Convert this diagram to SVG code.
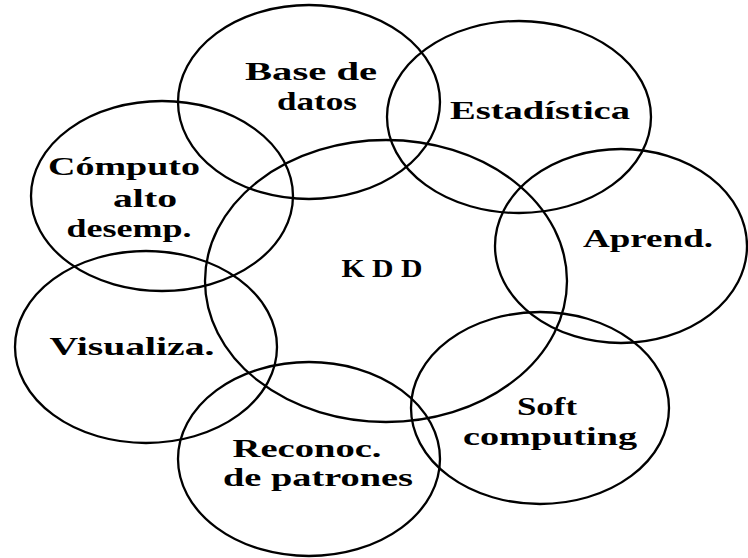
<svg xmlns="http://www.w3.org/2000/svg" width="748" height="558" viewBox="0 0 748 558">
  <style>
    .ring { fill: none; stroke: #000; stroke-width: 2.3; }
    .lbl { font-family: "Liberation Serif", "Times New Roman", serif; font-weight: bold; font-size: 26px; fill: #000; text-anchor: middle; }
  </style>
  <rect width="748" height="558" fill="#fff"/>

  <g id="base-datos">
    <ellipse class="ring" cx="309" cy="102" rx="131" ry="97"/>
    <text class="lbl" x="311" y="80" textLength="132" lengthAdjust="spacingAndGlyphs">Base de</text>
    <text class="lbl" x="317" y="110" textLength="80" lengthAdjust="spacingAndGlyphs">datos</text>
  </g>

  <g id="estadistica">
    <ellipse class="ring" cx="519" cy="117" rx="132" ry="96"/>
    <text class="lbl" x="540" y="119" textLength="180" lengthAdjust="spacingAndGlyphs">Estadística</text>
  </g>

  <g id="aprend">
    <ellipse class="ring" cx="621" cy="246" rx="126" ry="97"/>
    <text class="lbl" x="648" y="247" textLength="130" lengthAdjust="spacingAndGlyphs">Aprend.</text>
  </g>

  <g id="kdd">
    <ellipse class="ring" cx="386" cy="281" rx="181" ry="141"/>
    <text class="lbl" x="382" y="277" textLength="81" lengthAdjust="spacingAndGlyphs">K D D</text>
  </g>

  <g id="computo">
    <ellipse class="ring" cx="162" cy="196" rx="131" ry="95"/>
    <text class="lbl" x="124" y="175" textLength="152" lengthAdjust="spacingAndGlyphs">Cómputo</text>
    <text class="lbl" x="145" y="207" textLength="64" lengthAdjust="spacingAndGlyphs">alto</text>
    <text class="lbl" x="129" y="237" textLength="125" lengthAdjust="spacingAndGlyphs">desemp.</text>
  </g>

  <g id="visualiza">
    <ellipse class="ring" cx="146" cy="347" rx="131" ry="96"/>
    <text class="lbl" x="132" y="355" textLength="165" lengthAdjust="spacingAndGlyphs">Visualiza.</text>
  </g>

  <g id="reconoc">
    <ellipse class="ring" cx="309" cy="459" rx="131" ry="97"/>
    <text class="lbl" x="307" y="457" textLength="149" lengthAdjust="spacingAndGlyphs">Reconoc.</text>
    <text class="lbl" x="318" y="486" textLength="190" lengthAdjust="spacingAndGlyphs">de patrones</text>
  </g>

  <g id="soft-computing">
    <ellipse class="ring" cx="540" cy="408" rx="129" ry="96"/>
    <text class="lbl" x="547" y="415" textLength="60" lengthAdjust="spacingAndGlyphs">Soft</text>
    <text class="lbl" x="550" y="445" textLength="174" lengthAdjust="spacingAndGlyphs">computing</text>
  </g>

  <g id="connectors"/>
</svg>
